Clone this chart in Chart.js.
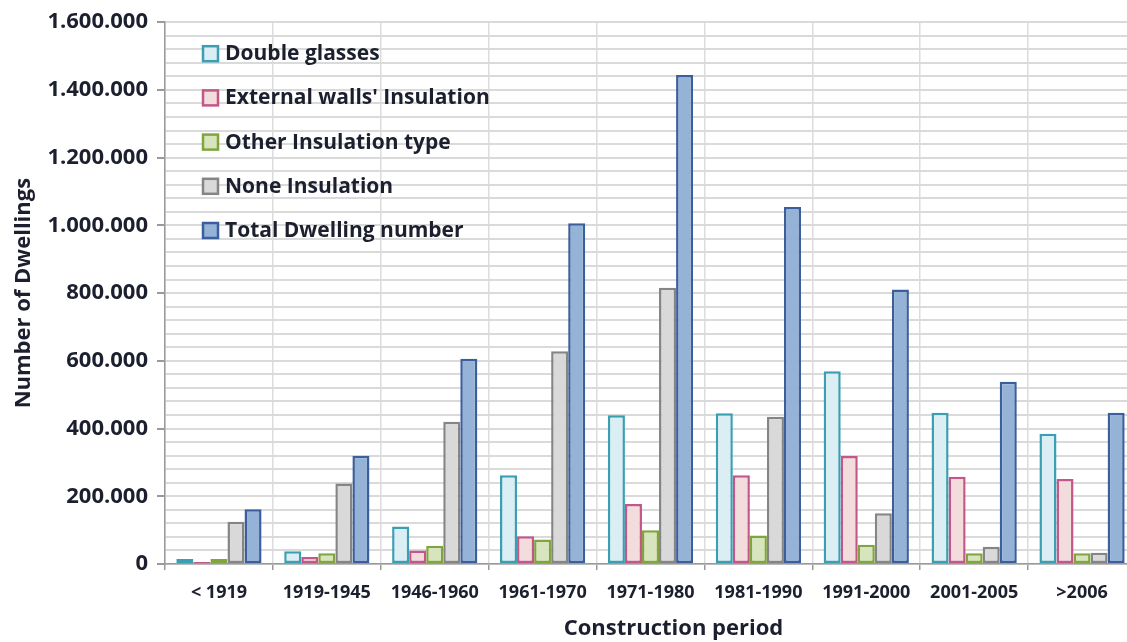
<!DOCTYPE html>
<html>
<head>
<meta charset="utf-8">
<script src="https://cdn.jsdelivr.net/npm/chart.js@4.4.1/dist/chart.umd.min.js"></script>
<style>
  body { margin: 0; background: #fff; overflow: hidden; }
  #wrap { width: 1140px; height: 642px; }
</style>
</head>
<body>
<div id="wrap"><canvas id="myChart" width="1140" height="642"></canvas></div>
<script>
const periods = ['< 1919', '1919-1945', '1946-1960', '1961-1970', '1971-1980', '1981-1990', '1991-2000', '2001-2005', '>2006'];

const doubleGlasses   = [15000, 38000, 111000, 262000, 439000, 445000, 569000, 447000, 385000];
const externalWalls   = [6000, 21000, 40000, 82000, 177000, 262000, 319000, 258000, 251000];
const otherInsulation = [15000, 32000, 54000, 72000, 100000, 84000, 57000, 32000, 32000];
const noneInsulation  = [125000, 238000, 420000, 628000, 816000, 435000, 150000, 51000, 33000];
const totalDwellings  = [162000, 320000, 606000, 1006000, 1444000, 1054000, 811000, 538000, 447000];

const FONT = "'Open Sans', sans-serif";
const TEXT = '#1c1f2e';

function dotted(v) {
    return String(v).replace(/\B(?=(\d{3})+(?!\d))/g, '.');
}

// legend boxes sit inside the plot, top-left
const insideLegend = {
    id: 'insideLegend',
    afterDraw(chart) {
        const ctx = chart.ctx;
        const area = chart.chartArea;
        ctx.save();
        ctx.font = 'bold 21px ' + FONT;
        ctx.textBaseline = 'middle';
        chart.data.datasets.forEach(function (ds, i) {
            const y = area.top + 31 + i * 44.2;
            const x = area.left + 38;
            ctx.fillStyle = ds.backgroundColor;
            ctx.fillRect(x, y - 7, 15, 15);
            ctx.strokeStyle = ds.borderColor;
            ctx.lineWidth = 2.5;
            ctx.strokeRect(x, y - 7, 15, 15);
            ctx.fillStyle = TEXT;
            ctx.fillText(ds.label, x + 22, y + 1);
        });
        ctx.restore();
    }
};

// x axis title, centred a little right of the plot
const periodTitle = {
    id: 'periodTitle',
    afterDraw(chart) {
        const ctx = chart.ctx;
        const area = chart.chartArea;
        ctx.save();
        ctx.font = 'bold 22px ' + FONT;
        ctx.fillStyle = TEXT;
        ctx.textAlign = 'center';
        ctx.textBaseline = 'middle';
        ctx.fillText('Construction period', (area.left + area.right) / 2 + 23, 629);
        ctx.restore();
    }
};

function bars(label, values, fill, border) {
    return {
        label: label,
        data: values,
        backgroundColor: fill,
        borderColor: border,
        borderWidth: 2.5,
        borderSkipped: false,
        categoryPercentage: 0.79,
        barPercentage: 1.0
    };
}

const data = {
    labels: periods,
    datasets: [
        bars('Double glasses', doubleGlasses, '#dbeef4', '#3a9fb3'),
        bars("External walls' Insulation", externalWalls, '#f2dcdc', '#c4578a'),
        bars('Other Insulation type', otherInsulation, '#d7e4bd', '#80a53c'),
        bars('None Insulation', noneInsulation, '#d9d9d9', '#858585'),
        bars('Total Dwelling number', totalDwellings, '#95b3d7', '#3b5f9c')
    ]
};

const options = {
    responsive: false,
    animation: false,
    devicePixelRatio: 1,
    layout: { padding: { top: 20, right: 4, left: 0, bottom: 0 } },
    plugins: {
        legend: { display: false },
        tooltip: { enabled: false }
    },
    scales: {
        x: {
            afterFit: function (scale) { scale.height = 78; },
            grid: {
                offset: true,
                color: '#dcdcdc',
                lineWidth: 1.5,
                tickLength: 6,
                tickColor: '#9a9a9a'
            },
            border: { color: '#9a9a9a', width: 1.5 },
            ticks: {
                color: TEXT,
                padding: 12,
                maxRotation: 0,
                autoSkip: false,
                font: { family: FONT, size: 18, weight: 'bold' }
            }
        },
        y: {
            min: 0,
            max: 1600000,
            afterFit: function (scale) { scale.width = 165; },
            grid: {
                color: '#dadada',
                lineWidth: 2,
                tickLength: 8,
                tickColor: function (c) {
                    return c.tick && c.tick.value % 200000 === 0 ? '#9a9a9a' : 'rgba(0,0,0,0)';
                }
            },
            border: { color: '#9a9a9a', width: 1.5 },
            ticks: {
                stepSize: 40000,
                autoSkip: false,
                padding: 9,
                color: TEXT,
                font: { family: FONT, size: 22, weight: 'bold' },
                callback: function (v) {
                    return v % 200000 === 0 ? dotted(v) : '';
                }
            },
            title: {
                display: true,
                text: 'Number of Dwellings',
                color: TEXT,
                padding: 11,
                font: { family: FONT, size: 22, weight: 'bold' }
            }
        }
    }
};

const myChart = new Chart(document.getElementById('myChart'), {
    type: 'bar',
    data: data,
    options: options,
    plugins: [insideLegend, periodTitle]
});
</script>
</body>
</html>
